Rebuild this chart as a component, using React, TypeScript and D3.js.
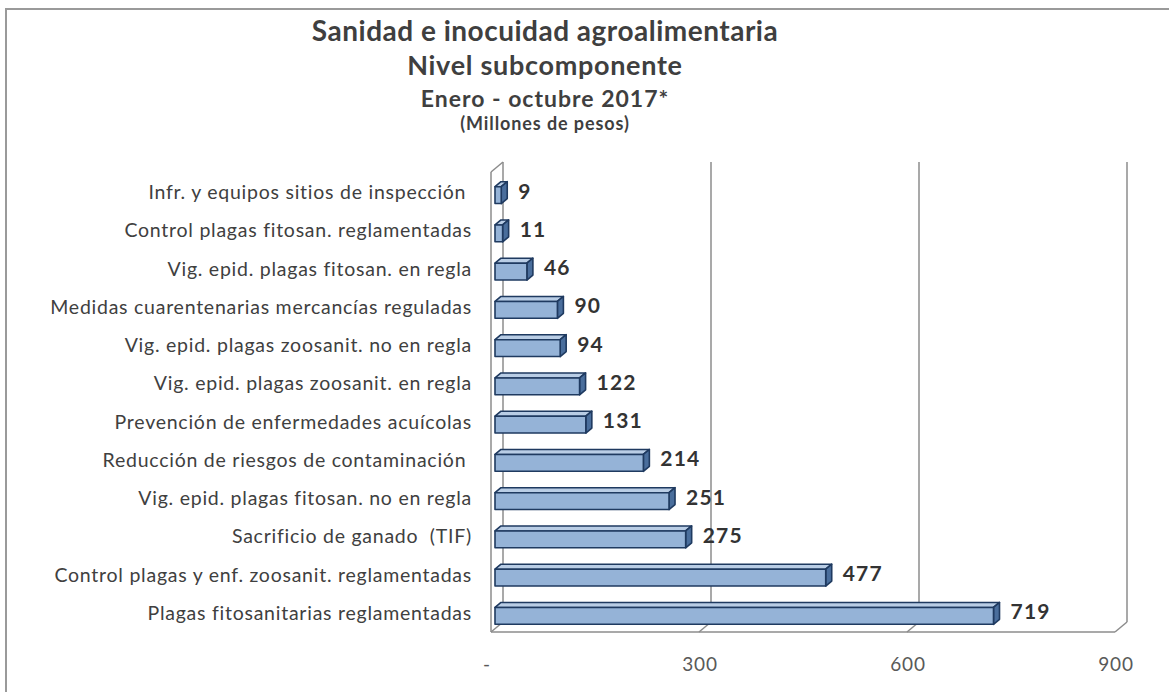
import React from "react";
import * as d3 from "d3";

const categories: string[] = [
  "Infr. y equipos sitios de inspección ",
  "Control plagas fitosan. reglamentadas",
  "Vig. epid. plagas fitosan. en regla",
  "Medidas cuarentenarias mercancías reguladas",
  "Vig. epid. plagas zoosanit. no en regla",
  "Vig. epid. plagas zoosanit. en regla",
  "Prevención de enfermedades acuícolas",
  "Reducción de riesgos de contaminación ",
  "Vig. epid. plagas fitosan. no en regla",
  "Sacrificio de ganado  (TIF)",
  "Control plagas y enf. zoosanit. reglamentadas",
  "Plagas fitosanitarias reglamentadas",
];
const values: number[] = [9, 11, 46, 90, 94, 122, 131, 214, 251, 275, 477, 719];
const tickValues: number[] = [0, 300, 600, 900];
const tickLabels: string[] = ["-", "300", "600", "900"];
const titleLines: string[] = [
  "Sanidad e inocuidad agroalimentaria",
  "Nivel subcomponente",
  "Enero - octubre 2017*",
  "(Millones de pesos)",
];

export default function App() {
  const W = 1169;
  const H = 692;
  const depthX = 12;
  const depthY = 10;
  const frontLeft = 491;
  const frontRight = 1115;
  const floorY = 632;
  const topY = 172;

  const xFront = d3.scaleLinear().domain([0, 900]).range([frontLeft, frontRight]);
  const xBar = d3.scaleLinear().domain([0, 900]).range([495, 1119]);
  const y = d3.scaleBand<string>().domain(categories).range([topY - 1, floorY - 2]).paddingInner(0.56).paddingOuter(0.28);

  const bdx = 6;
  const bdy = 5;
  const font = "Lato, 'Open Sans', sans-serif";
  const gridColor = "#8c8c8c";

  const titleSizes = [28, 27, 23, 18];
  const titleSpacing = [0.5, 0.7, 1.0, 0.9];
  const titleYs = [41, 75, 107, 130];

  return (
    <svg width={W} height={H} style={{ position: "absolute", left: 0, top: 0, display: "block" }}>
      <rect x={0} y={0} width={W} height={H} fill="#fff" />
      <rect x={6} y={9} width={W + 10} height={H + 10} fill="none" stroke="#9a9a9a" strokeWidth={2} />
      {titleLines.map((t, i) => (
        <text key={i} x={545} y={titleYs[i]} textAnchor="middle" fontFamily={font} fontWeight="bold" fontSize={titleSizes[i]} letterSpacing={titleSpacing[i]} fill="#3f3f3f">
          {t}
        </text>
      ))}
      {/* walls and gridlines */}
      <g stroke={gridColor} strokeWidth={1.5} fill="none">
        <line x1={frontLeft} y1={topY} x2={frontLeft} y2={floorY} />
        <line x1={frontLeft} y1={topY} x2={frontLeft + depthX} y2={topY - depthY} />
        <line x1={frontLeft} y1={floorY} x2={frontRight} y2={floorY} />
        {tickValues.map((v) => {
          const xb = xFront(v) + depthX;
          return (
            <g key={v}>
              <line x1={xb} y1={topY - depthY} x2={xb} y2={floorY - depthY} />
              <line x1={xb} y1={floorY - depthY} x2={xFront(v)} y2={floorY} />
            </g>
          );
        })}
      </g>
      {/* bars */}
      {categories.map((c, i) => {
        const v = values[i];
        const x0 = xBar(0);
        const x1 = xBar(v);
        const yt = (y(c) as number) + bdy;
        const h = y.bandwidth();
        const stroke = "#1f3a60";
        return (
          <g key={c} strokeWidth={1.6} stroke={stroke} strokeLinejoin="round">
            <polygon points={`${x0},${yt} ${x0 + bdx},${yt - bdy} ${x1 + bdx},${yt - bdy} ${x1},${yt}`} fill="#b9cde5" />
            <polygon points={`${x1},${yt} ${x1 + bdx},${yt - bdy} ${x1 + bdx},${yt + h - bdy} ${x1},${yt + h}`} fill="#4a6e9c" />
            <rect x={x0} y={yt} width={x1 - x0} height={h} fill="#95b3d7" />
          </g>
        );
      })}
      {/* data labels */}
      {categories.map((c, i) => (
        <text key={c} x={xBar(values[i]) + 17} y={(y(c) as number) + y.bandwidth() / 2 + 3} dominantBaseline="middle" fontFamily={font} fontWeight="bold" fontSize={21} letterSpacing={1.2} fill="#333">
          {values[i]}
        </text>
      ))}
      {/* category labels */}
      {categories.map((c) => (
        <text key={c} x={472} y={(y(c) as number) + y.bandwidth() / 2 + 4} dominantBaseline="middle" textAnchor="end" fontFamily={font} fontSize={19.5} letterSpacing={0.75} fill="#404040" style={{ whiteSpace: "pre" }}>
          {c}
        </text>
      ))}
      {/* tick labels */}
      {tickValues.map((v, i) => (
        <text key={v} x={xFront(v) + (i === 0 ? -4 : 1)} y={666} dominantBaseline="middle" textAnchor="middle" fontFamily={font} fontSize={19} letterSpacing={0.8} fill="#595959">
          {tickLabels[i]}
        </text>
      ))}
    </svg>
  );
}
